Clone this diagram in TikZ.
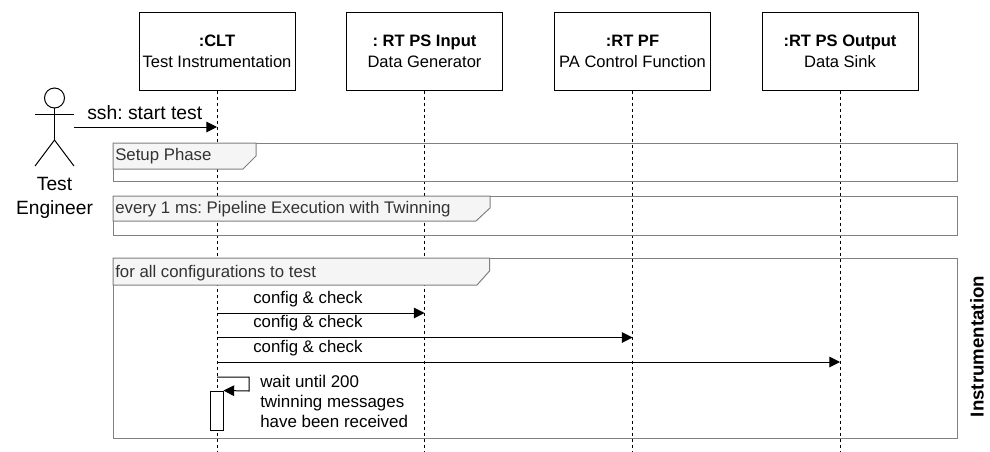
\documentclass[tikz,border=0pt]{standalone}
\usepackage{fontspec}
\setmainfont{Liberation Sans}
\usetikzlibrary{arrows.meta,calc}
\definecolor{framegray}{RGB}{128,128,128}
\definecolor{tabfill}{RGB}{245,245,245}
\definecolor{tabtext}{RGB}{51,51,51}
\tikzset{
  x=0.75pt,y=-0.75pt,
  lifebox/.style={draw,line width=0.75pt,minimum width=117pt,minimum height=58pt,align=center,inner sep=0pt,font=\fontsize{12.4}{15.75}\selectfont},
  lifeline/.style={line width=0.75pt,dash pattern=on 2.25pt off 2.25pt},
  frameline/.style={draw=framegray,line width=0.75pt},
  tabshape/.style={draw=framegray,fill=tabfill,line width=0.75pt},
  tablabel/.style={anchor=west,inner sep=0pt,text=tabtext,font=\fontsize{12.6}{15}\selectfont},
  msg/.style={line width=0.75pt,-{Triangle[length=8pt,width=8pt]}},
  msglabel/.style={anchor=west,inner sep=0pt,font=\fontsize{12.6}{15}\selectfont},
}
\begin{document}
\frenchspacing
\begin{tikzpicture}
\useasboundingbox (0,0) rectangle (990,451);
% lifeline heads
\node[lifebox] (clt) at (217,51.5) {\textbf{:CLT}\\Test Instrumentation};
\node[lifebox] (inp) at (424.5,51.5) {\textbf{: RT PS Input}\\Data Generator};
\node[lifebox] (pf) at (632.5,51.5) {\textbf{:RT PF}\\PA Control Function};
\node[lifebox] (out) at (840,51.5) {\textbf{:RT PS Output}\\Data Sink};
% lifeline ends
\coordinate (cltend) at (clt.south |- 0,451);
\coordinate (inpend) at (inp.south |- 0,451);
\coordinate (pfend) at (pf.south |- 0,451);
\coordinate (outend) at (out.south |- 0,451);
\draw[lifeline] (clt.south) -- (cltend);
\draw[lifeline] (inp.south) -- (inpend);
\draw[lifeline] (pf.south) -- (pfend);
\draw[lifeline] (out.south) -- (outend);
% frames
\draw[frameline] (113,143) rectangle (957,181);
\draw[tabshape] (113,143) -- (256,143) -- (256,156) -- (243,169) -- (113,169) -- cycle;
\node[tablabel] (f1) at (115,156) {Setup Phase};
\draw[frameline] (113,196) rectangle (957,235);
\draw[tabshape] (113,196) -- (490,196) -- (490,208) -- (476,221) -- (113,221) -- cycle;
\node[tablabel] (f2) at (115,209) {every 1 ms: Pipeline Execution with Twinning};
\draw[frameline] (113,258) rectangle (957,438.5);
\draw[tabshape] (113,258) -- (489.5,258) -- (489.5,271) -- (477,285) -- (113,285) -- cycle;
\node[tablabel] (f3) at (115,273.5) {for all configurations to test};
% actor
\draw[line width=0.75pt] (54.5,98) circle (10);
\coordinate (neck) at (54.5,108);
\coordinate (hip) at (54.5,140);
\draw[line width=0.75pt] (neck) -- (hip);
\draw[line width=0.75pt] (35,114) -- (74,114);
\draw[line width=0.75pt] (35,166) -- (hip) -- (74,166);
\node[inner sep=0pt,align=center,font=\fontsize{14.4}{18}\selectfont] (actor) at (54.5,197.5) {Test\\Engineer};
% messages
\coordinate (a0) at (74,127);
\draw[msg] (a0) -- (a0 -| clt.south);
\node[inner sep=0pt,anchor=west,font=\fontsize{14.5}{16}\selectfont] (m0) at (87,112.5) {ssh: start test};
\draw[msg] (clt.south |- 0,313) -- (inp.south |- 0,313);
\node[msglabel] (m1) at (253,299.5) {config \& check};
\draw[msg] (clt.south |- 0,337.5) -- (pf.south |- 0,337.5);
\node[msglabel] (m2) at (253,323.5) {config \& check};
\draw[msg] (clt.south |- 0,362) -- (out.south |- 0,362);
\node[msglabel] (m3) at (253,348) {config \& check};
% activation and self call
\node[draw,fill=white,line width=0.75pt,minimum width=9.75pt,minimum height=29.25pt,inner sep=0pt] (act) at (216.5,410.5) {};
\draw[msg] (clt.south |- 0,377) -- (249,377) -- (249,391) -- (act.north east);
\node[msglabel,align=left,font=\fontsize{12.7}{15}\selectfont,anchor=north west] (m4) at (260,374.5) {wait until 200\\twinning messages\\have been received};
% side label
\node[rotate=90,inner sep=0pt,font=\bfseries\fontsize{14}{16}\selectfont] (side) at (977,346.5) {Instrumentation};
\end{tikzpicture}
\end{document}
